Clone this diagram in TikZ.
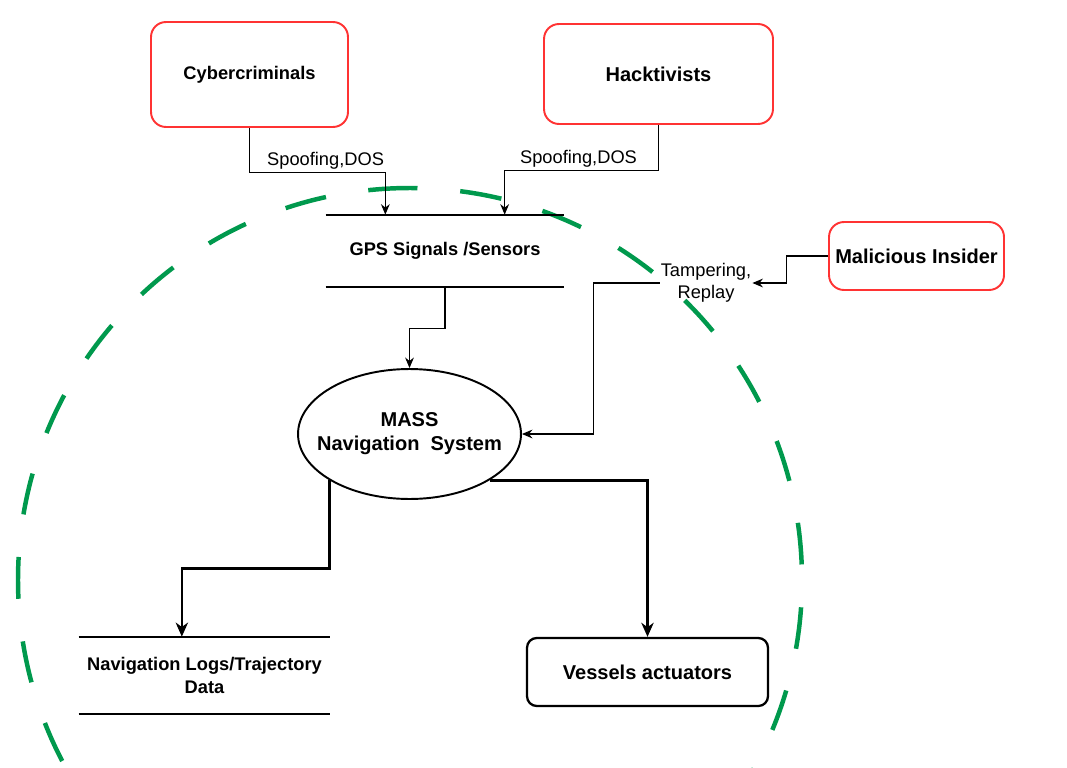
\documentclass[tikz,border=0pt]{standalone}
\usepackage{fontspec}
\setmainfont{Liberation Sans}
\usetikzlibrary{positioning,arrows.meta,shapes.geometric,calc}
\definecolor{threatred}{RGB}{255,51,51}
\definecolor{zonegreen}{RGB}{0,153,77}

\begin{document}
\begin{tikzpicture}[
		x=0.02cm, y=-0.02cm,
		font=\fontsize{10.4}{13.4}\selectfont,
		actor/.style={draw=threatred, line width=1.1pt, rounded corners=8.5pt, align=center, inner sep=0pt, font=\fontsize{10.4}{13.4}\selectfont\bfseries},
		big/.style={font=\fontsize{11.4}{13.6}\selectfont\bfseries},
		store/.style={align=center, inner sep=0pt, font=\fontsize{10.4}{13.4}\selectfont\bfseries},
		storeline/.style={line width=1.2pt},
		proc/.style={draw, ellipse, line width=1.1pt, align=center, inner sep=0pt, inner xsep=-7.8pt, font=\fontsize{11.4}{13.6}\selectfont\bfseries},
		sink/.style={draw, line width=1.3pt, rounded corners=5.5pt, align=center, inner sep=0pt, font=\fontsize{11.4}{13.6}\selectfont\bfseries},
		lbl/.style={align=center, inner sep=2pt},
		arr/.style={-{Stealth[length=6pt, width=5pt, inset=2pt]}, line width=0.6pt},
		thickarr/.style={-{Stealth[length=8pt, width=7pt, inset=2.5pt]}, line width=1.4pt},
		zone/.style={draw=zonegreen, line width=2.55pt, dash pattern=on 23.8pt off 24.4pt}
		]
		\useasboundingbox (0,0) rectangle (1067,767);
		
		% trust boundary
		\begin{scope}
			\clip (0,0) rectangle (1067,767);
			\draw[zone] (410,188) arc[start angle=270, end angle=-90, radius=392];
		\end{scope}
		
		\node[actor, minimum width=3.94cm, minimum height=2.1cm] (cyber) at (249.5,74.5) {Cybercriminals};
		\node[actor, big, minimum width=4.58cm, minimum height=2.0cm] (hack) at (658.5,74) {Hacktivists};
		\node[actor, big, minimum width=3.5cm, minimum height=1.36cm] (insider) at (916.5,256) {Malicious Insider};
		\node[store, minimum width=4.76cm, minimum height=1.44cm] (gps) at (445,251) {GPS Signals /Sensors};
		\node[proc, minimum width=4.46cm, minimum height=2.6cm] (mass) at (409.5,434) {MASS\\Navigation\ \ System};
		\node[store, minimum width=5.02cm, minimum height=1.54cm] (logs) at (204.5,675.5) {Navigation Logs/Trajectory\\Data};
		\node[sink, minimum width=4.82cm, minimum height=1.36cm] (act) at (647.5,672) {Vessels actuators};
		\node[lbl, inner sep=0.5pt, font=\fontsize{10.4}{12.8}\selectfont] (tamper) at (706,283) {Tampering,\\Replay};
		
		\draw[storeline] (gps.north west) -- (gps.north east) (gps.south west) -- (gps.south east);
		\draw[storeline] (logs.north west) -- (logs.north east) (logs.south west) -- (logs.south east);
		
		\draw[arr] (cyber.south) -- ++(0,45) -| node[lbl, pos=0.28, above] {Spoofing,DOS} ($(gps.north west)!0.25!(gps.north east)$);
		\draw[arr] (hack.south) -- ++(0,46) -| node[lbl, pos=0.26, above] {Spoofing,DOS} ($(gps.north west)!0.75!(gps.north east)$);
		\draw[arr] (gps.south) -- ++(0,41) -| (mass.north);
		\draw[arr] (insider.west) -- ++(-42,0) |- (tamper.east);
		\draw[arr] (tamper.west) -- ++(-66,0) |- (mass.east);
		\draw[thickarr] (mass.210) -- ++(0,88) -| ($(logs.north west)!0.41!(logs.north east)$);
		\draw[thickarr] (mass.-30) -| (act.north);
	\end{tikzpicture}
\end{document}
